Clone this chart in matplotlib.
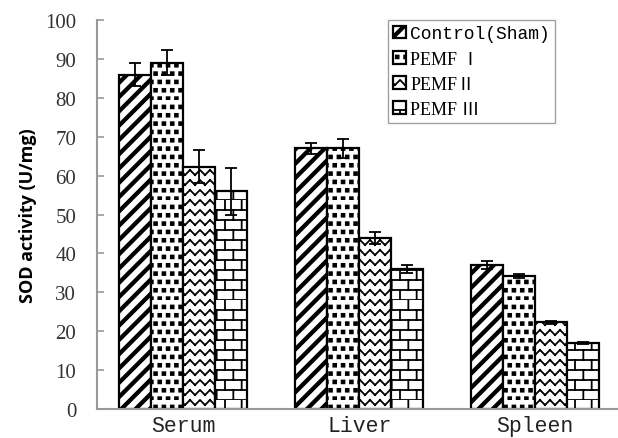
import matplotlib.pyplot as plt
import matplotlib.hatch as mhatch
from matplotlib.path import Path
import numpy as np

groups = ['Serum', 'Liver', 'Spleen']
series = ['Control(Sham)', 'PEMF Ⅰ', 'PEMFⅡ', 'PEMF Ⅲ']
values = [
    [86.0, 67.0, 37.0],
    [89.0, 67.0, 34.2],
    [62.3, 44.0, 22.3],
    [56.0, 36.0, 17.0],
]
errors = [
    [3.0, 1.5, 1.0],
    [3.2, 2.5, 0.5],
    [4.3, 1.5, 0.4],
    [6.0, 1.0, 0.2],
]
hatches = ['/', '.', 'x', '+']
yticks = np.arange(0, 101, 10)


# custom hatch tiles (unit cell = 72 pt) to mimic the Excel-style fills
class TileHatch(mhatch.HatchPatternBase):
    char = ''

    def __init__(self, hatch, density):
        if hatch.count(self.char):
            self.verts, self.codes = self.build()
        else:
            self.verts, self.codes = np.empty((0, 2)), []
        self.num_vertices = len(self.verts)

    def set_vertices_and_codes(self, vertices, codes):
        vertices[:] = self.verts
        codes[:] = self.codes


def polys(shapes):
    v, c = [], []
    for s in shapes:
        v += list(s) + [s[0]]
        c += [Path.MOVETO] + [Path.LINETO] * (len(s) - 1) + [Path.CLOSEPOLY]
    return np.array(v, float), c


def segs(lines):
    v, c = [], []
    for a, b in lines:
        v += [a, b]
        c += [Path.MOVETO, Path.LINETO]
    return np.array(v, float), c


class Stripes(TileHatch):
    char = '/'

    def build(self):
        n, t = 7, 0.035
        return polys([[(k / n, 0), (k / n + t, 0), (k / n + t + 1, 1), (k / n + 1, 1)]
                      for k in range(-n - 1, n + 1)])


class Squares(TileHatch):
    char = '.'

    def build(self):
        n, s = 12, 0.028
        sh = []
        for r in range(n):
            for q in range(n):
                x0 = (q + 0.5 * (r % 2)) / n
                y0 = r / n
                sh.append([(x0, y0), (x0 + s, y0), (x0 + s, y0 + s), (x0, y0 + s)])
        return polys(sh)


class Zigzag(TileHatch):
    char = 'x'

    def build(self):
        n, m, a = 10, 10, 0.05
        ln = []
        for r in range(n + 1):
            y = r / n
            for q in range(m):
                x0, x1 = q / m, (q + 0.5) / m
                ln.append(((x0, y), (x1, y - a)))
                ln.append(((x1, y - a), ((q + 1) / m, y)))
        return segs(ln)


class Bricks(TileHatch):
    char = '+'

    def build(self):
        n, m = 10, 6
        ln = []
        for r in range(n):
            y0, y1 = r / n, (r + 1) / n
            ln.append(((0, y0), (1, y0)))
            for q in range(m + 1):
                x = (q + 0.5 * (r % 2)) / m
                ln.append(((x, y0), (x, y1)))
        return segs(ln)


mhatch._hatch_types[:] = [Stripes, Squares, Zigzag, Bricks]

plt.rcParams['hatch.linewidth'] = 1.3
plt.rcParams['hatch.color'] = 'black'

fig = plt.figure(figsize=(6.18, 4.39), dpi=100)
ax = fig.add_axes([0.157, 0.066, 0.843, 0.886])

x = np.arange(len(groups))
w = 0.182
for i, name in enumerate(series):
    pos = x + (i - 1.5) * w
    ax.bar(pos, values[i], w, color='white', edgecolor='black', linewidth=1.6,
           hatch=hatches[i], label=name, zorder=2)
    ax.errorbar(pos, values[i], yerr=errors[i], fmt='none', ecolor='black',
                elinewidth=1.3, capsize=4.5, capthick=1.3, zorder=3)

ax.set_xlim(-0.49, 2.47)
ax.set_ylim(0, 100)
ax.set_yticks(yticks)
ax.set_yticklabels([str(t) for t in yticks], fontfamily='Liberation Serif', fontsize=15, color='#333333')
ax.set_xticks(x)
ax.set_xticklabels(groups, fontfamily='Liberation Mono', fontsize=15.5, color='#222222')
ax.tick_params(axis='y', direction='in', length=5, color='#999999', width=1.2, pad=15)
ax.tick_params(axis='x', length=0, pad=4)
for s in ['top', 'right']:
    ax.spines[s].set_visible(False)
for s in ['left', 'bottom']:
    ax.spines[s].set_color('#999999')
    ax.spines[s].set_linewidth(1.5)

ax.set_ylabel('SOD activity (U/mg)', family='Open Sans', fontweight='bold', fontsize=13, labelpad=6)

leg = ax.legend(loc='upper left', bbox_to_anchor=(0.558, 1.0), borderaxespad=0, frameon=True,
                fancybox=False, edgecolor='#888888', handlelength=0.7, handleheight=0.7,
                handletextpad=0.25, borderpad=0.3, labelspacing=0.45,
                prop={'family': ['Liberation Mono', 'Noto Sans CJK SC'], 'size': 13})
leg.get_frame().set_linewidth(1.0)
for t in leg.get_texts()[1:]:
    t.set_fontfamily(['Liberation Serif', 'Noto Sans CJK SC'])

fig.savefig('out.png', dpi=100)
